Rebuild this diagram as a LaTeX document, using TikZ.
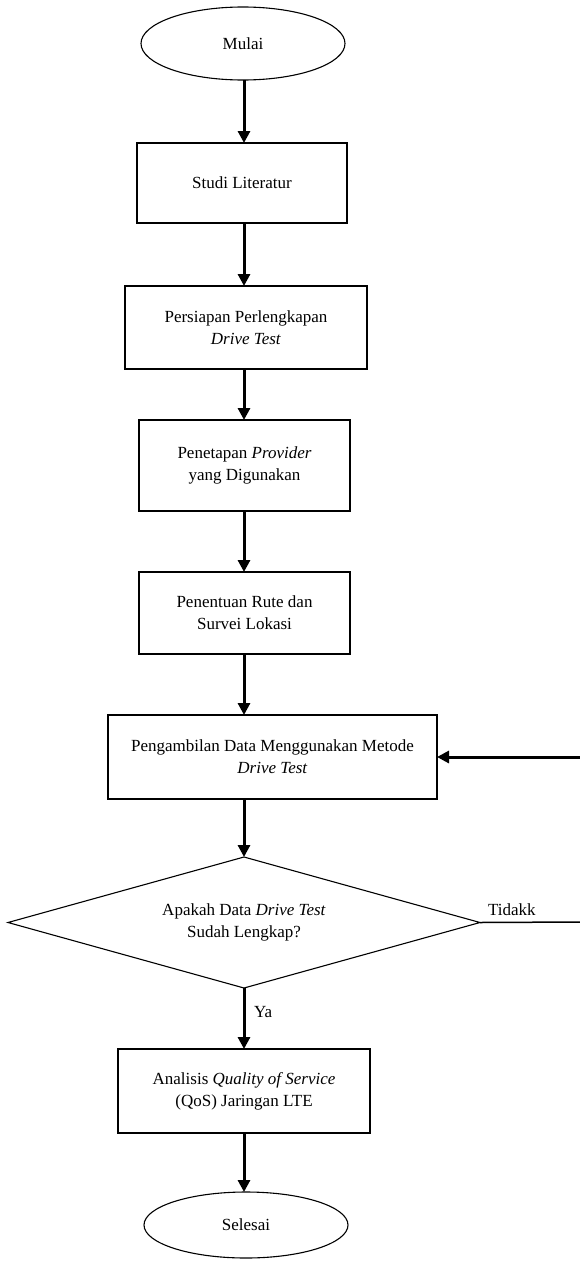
\documentclass[tikz,border=0pt]{standalone}
\usepackage{fontspec}
\setmainfont{Liberation Serif}
\usetikzlibrary{shapes.geometric,arrows.meta}
\begin{document}
\begin{tikzpicture}[x=1pt,y=-1pt,
  txt/.style={font=\fontsize{17}{22}\selectfont, align=center, inner sep=0pt, outer sep=0pt},
  procbox/.style={txt, draw, line width=1.3pt, rectangle},
  term/.style={txt, draw, line width=1.1pt, ellipse},
  decide/.style={txt, draw, line width=1.1pt, diamond},
  arr/.style={line width=3pt, -{Triangle[width=12pt,length=12pt]}},
  plain/.style={line width=3pt}]
\useasboundingbox (0,0) rectangle (580,1261);

\coordinate (ax) at (244,0);

\node[term, minimum width=204pt, minimum height=73pt] (mulai) at (243,43.5) {Mulai};
\node[procbox, minimum width=210pt, minimum height=80pt] (studi) at (242,183) {Studi Literatur};
\node[procbox, minimum width=242pt, minimum height=83pt] (persiapan) at (246,327.5) {Persiapan Perlengkapan\\\textit{Drive Test}};
\node[procbox, minimum width=211pt, minimum height=91pt] (penetapan) at (244.5,465.5) {Penetapan \textit{Provider}\\yang Digunakan};
\node[procbox, minimum width=211pt, minimum height=82pt] (penentuan) at (244.5,613) {Penentuan Rute dan\\Survei Lokasi};
\node[procbox, minimum width=329pt, minimum height=84pt] (ambil) at (272.5,757) {Pengambilan Data Menggunakan Metode\\\textit{Drive Test}};
\node[decide, minimum width=472pt, minimum height=131pt, aspect=3.6] (cek) at (244,922.5) {Apakah Data \textit{Drive Test}\\Sudah Lengkap?};
\node[procbox, minimum width=252pt, minimum height=84pt] (analisis) at (244,1091) {Analisis \textit{Quality of Service}\\(QoS) Jaringan LTE};
\node[term, minimum width=204pt, minimum height=66pt] (selesai) at (246,1225) {Selesai};

\node[txt, anchor=south west] (tidak) at (488,916) {Tidakk};
\node[txt, anchor=west] (ya) at (254,1012) {Ya};

\coordinate (edgeA) at (580,922);
\coordinate (edgeB) at (580,757);

\draw[arr] (mulai.south -| ax) -- (studi.north -| ax);
\draw[arr] (studi.south -| ax) -- (persiapan.north -| ax);
\draw[arr] (persiapan.south -| ax) -- (penetapan.north -| ax);
\draw[arr] (penetapan.south -| ax) -- (penentuan.north -| ax);
\draw[arr] (penentuan.south -| ax) -- (ambil.north -| ax);
\draw[arr] (ambil.south -| ax) -- (cek.north);
\draw[arr] (cek.south) -- (analisis.north -| ax);
\draw[arr] (analisis.south -| ax) -- (selesai.north -| ax);
\draw[line width=1.5pt] (cek.east) -- (edgeA);
\draw[arr] (edgeB) -- (ambil.east);
\end{tikzpicture}
\end{document}
